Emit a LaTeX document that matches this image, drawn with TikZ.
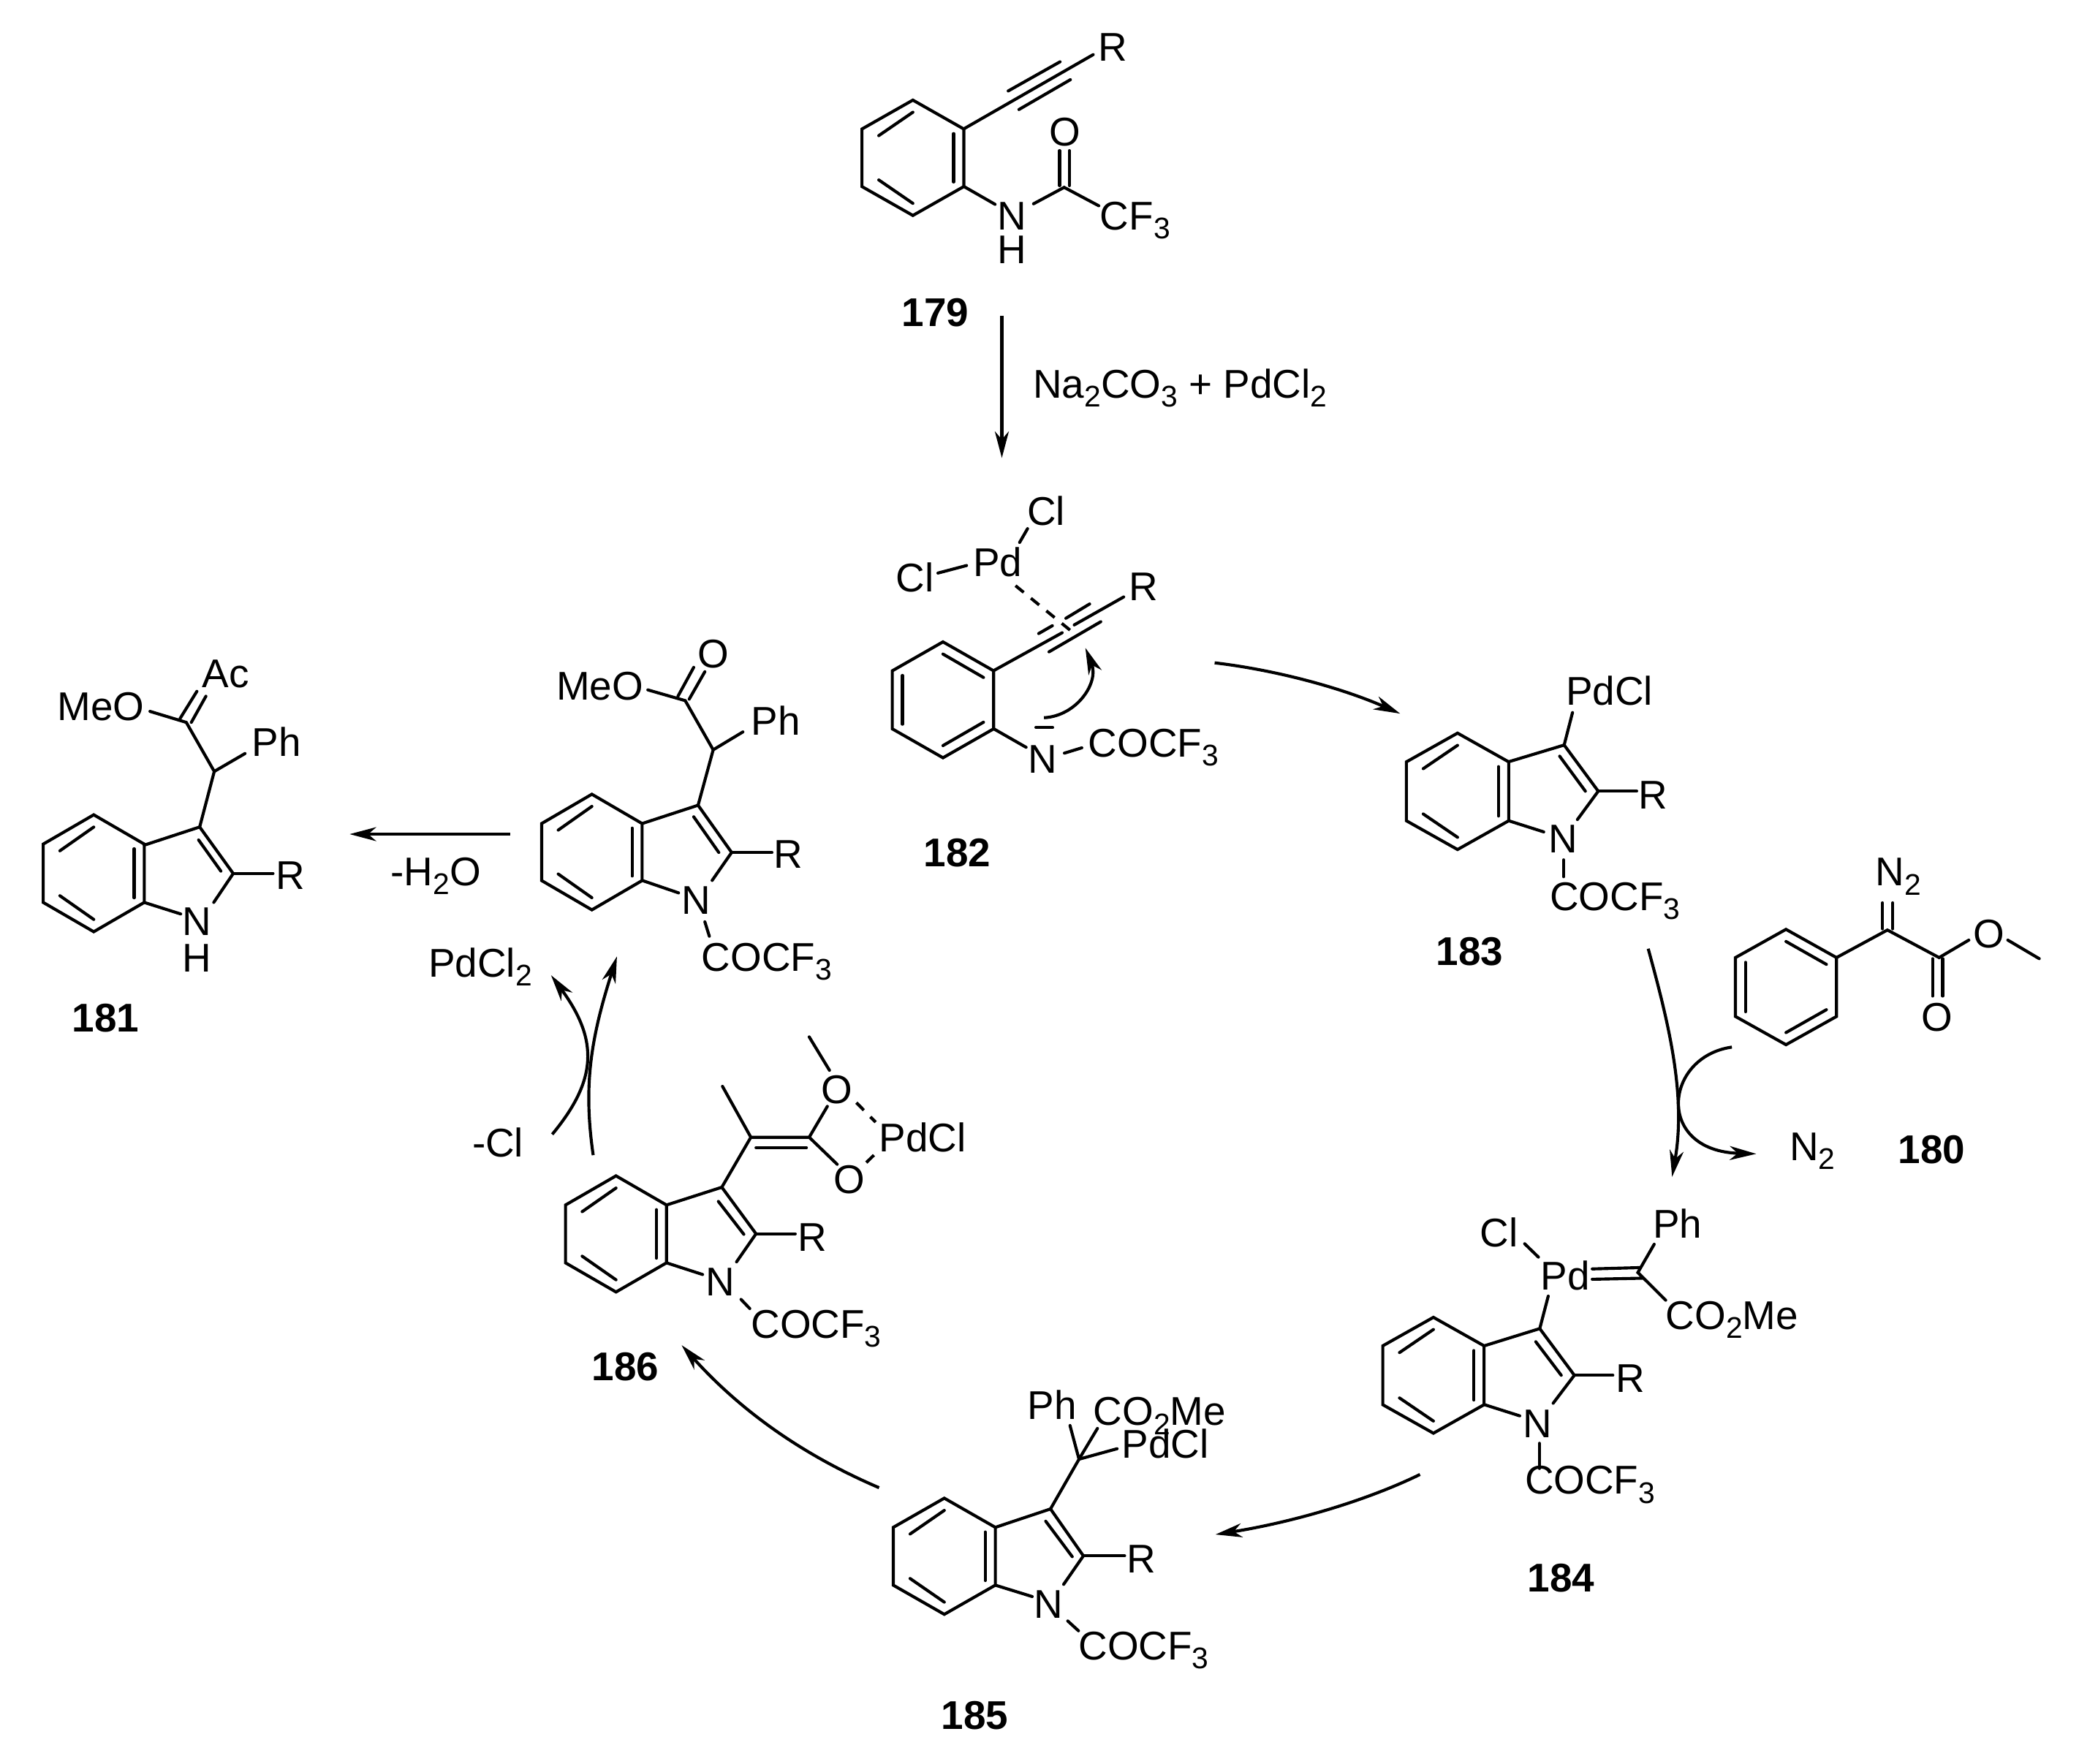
\documentclass[tikz,border=0pt]{standalone}
\usepackage{fontspec}
\setmainfont{Liberation Sans}
\usetikzlibrary{arrows.meta}
\def\lowsub#1{\raisebox{-1.9pt}{\fontsize{6.4}{7}\selectfont #1}}
% ring with inner bonds upper left, lower left, right: (cx,cy)(w,h,s)
\def\ringa(#1,#2)(#3,#4,#5){
	\draw[bond,line join=miter] ({#1},{#2-#4}) -- ({#1+#3},{#2-#5}) -- ({#1+#3},{#2+#5}) -- ({#1},{#2+#4}) -- ({#1-#3},{#2+#5}) -- ({#1-#3},{#2-#5}) -- cycle;
	\draw[bond] ({#1-0.67*#3},{#2-0.77*#5}) -- ({#1},{#2-0.79*#4});
	\draw[bond] ({#1-0.67*#3},{#2+0.77*#5}) -- ({#1},{#2+0.79*#4});
	\draw[bond] ({#1+0.8*#3},{#2-0.84*#5}) -- ({#1+0.8*#3},{#2+0.84*#5});
}
% same ring, inner bonds upper right, lower right, left
\def\ringb(#1,#2)(#3,#4,#5){
	\draw[bond,line join=miter] ({#1},{#2-#4}) -- ({#1+#3},{#2-#5}) -- ({#1+#3},{#2+#5}) -- ({#1},{#2+#4}) -- ({#1-#3},{#2+#5}) -- ({#1-#3},{#2-#5}) -- cycle;
	\draw[bond] ({#1+0.8*#3},{#2-0.77*#5}) -- ({#1},{#2-0.79*#4});
	\draw[bond] ({#1+0.8*#3},{#2+0.77*#5}) -- ({#1},{#2+0.79*#4});
	\draw[bond] ({#1-0.8*#3},{#2-0.84*#5}) -- ({#1-0.8*#3},{#2+0.84*#5});
}
\tikzset{
	bond/.style={line width=0.65pt,line cap=round},
	dashbond/.style={line width=0.65pt,dash pattern=on 0.8mm off 0.7mm},
	rxn/.style={line width=0.65pt,-{Stealth[length=2mm,width=1.05mm,inset=0.6mm]}},
	atomw/.style={inner sep=0,anchor=base west,font=\fontsize{8.6}{10}\selectfont},
	atomc/.style={inner sep=0,anchor=center,font=\fontsize{8.6}{10}\selectfont},
	cmpd/.style={inner sep=0,anchor=center,font=\fontsize{8.6}{10}\selectfont\bfseries}
}
\begin{document}
\begin{tikzpicture}[x=0.01cm,y=-0.01cm]
	\useasboundingbox (0,0) rectangle (1568,1330);
	\fill[white] (0,0) rectangle (1568,1330);

	%%%%% 179 %%%%%
	\ringa(688.5,119)(38.4,43.5,21.7);
	\draw[bond] (726.9,97.2) -- (824.5,41.2);
	\draw[bond] (760.4,68.6) -- (799.5,46.6);
	\draw[bond] (768.5,82.6) -- (807.3,60.1);
	\draw[bond] (726.9,140.6) -- (750.5,154.1);
	\draw[bond] (779.5,153.7) -- (802.6,141.3) -- (828.7,155.2);
	\draw[bond] (799.2,113.6) -- (799.2,140);
	\draw[bond] (806.5,113.6) -- (806.5,140);
	\node[atomc] (Ra) at (839.4,35.5) {R};
	\node[atomc] (Oa) at (803.4,99.7) {O};
	\node[atomc] (Na) at (763.2,163.1) {N};
	\node[atomc] (Ha) at (763.2,188.5) {H};
	\node[atomw] (CFa) at (829,173.2) {CF\lowsub{3}};
	\node[cmpd] (c179) at (705.5,236) {179};

	\coordinate (s179) at (755.6,238);
	\coordinate (e179) at (755.6,345.4);
	\draw[rxn] (s179) -- (e179);
	\node[atomw] (reag) at (778.5,300.4) {Na\lowsub{2}CO\lowsub{3} + PdCl\lowsub{2}};

	%%%%% 182 %%%%%
	\ringb(711.2,527.8)(38.2,43.7,21.9);
	\draw[bond] (749.4,505.8) -- (801.1,477.2);
	\draw[bond] (810.2,471.3) -- (847.5,450.2);
	\draw[bond] (783.4,477.8) -- (793.7,471.9);
	\draw[bond] (803.9,466.3) -- (821.8,455.5);
	\draw[bond] (791.2,491.6) -- (830.2,468.9);
	\draw[dashbond] (765.9,441.7) -- (807,475.2);
	\draw[bond] (769,409.1) -- (775,398.7);
	\draw[bond] (707.4,432.2) -- (729,426.5);
	\draw[bond] (749.4,549.6) -- (773.9,563.6);
	\draw[bond] (802.8,568) -- (815.9,564);
	\draw[bond] (781.3,548.6) -- (793.9,548.6);
	\node[atomw] (Pdb) at (733.2,434.8) {Pd};
	\node[atomw] (Clb) at (774,396.3) {Cl};
	\node[atomw] (Clc) at (675,446.2) {Cl};
	\node[atomw] (Rb) at (851,452.9) {R};
	\node[atomc] (Nb) at (786.3,572.5) {N};
	\node[atomw] (COb) at (820.2,570.9) {COCF\lowsub{3}};
	\node[cmpd] (c182) at (722,643) {182};
	\coordinate (s182i) at (787.4,541.3);
	\coordinate (e182i) at (818.6,488.6);
	\draw[rxn] (s182i) .. controls (812,540) and (829,515) .. (e182i);

	\coordinate (s182) at (916.1,499.9);
	\coordinate (e182) at (1056,538.2);
	\draw[rxn] (s182) .. controls (960,505) and (1010,518) .. (e182);

	%%%%% 183 %%%%%
	\ringa(1099.3,596.8)(38.6,43.9,22.2);
	\draw[bond] (1137.9,574.5) -- (1179.7,561.9) -- (1205.4,596.7) -- (1189.7,618.1);
	\draw[bond] (1176.3,570.3) -- (1195.7,596.7);
	\draw[bond] (1137.9,619) -- (1164.3,627.4);
	\draw[bond] (1205.4,596.7) -- (1234.4,596.7);
	\draw[bond] (1179.7,561.9) -- (1186,537.4);
	\draw[bond] (1179.3,648.5) -- (1179.3,661.2);
	\node[atomw] (Pdd) at (1180.3,531.8) {PdCl};
	\node[atomc] (Rd) at (1247,599.8) {R};
	\node[atomc] (Nd) at (1178.7,633) {N};
	\node[atomw] (COd) at (1168.3,686.5) {COCF\lowsub{3}};
	\node[cmpd] (c183) at (1108.5,717.4) {183};

	%%%%% 180 %%%%%
	\ringb(1347,744.4)(38.1,43.5,22.2);
	\draw[bond] (1385.1,722.2) -- (1423.5,701.4) -- (1462.5,722.2) -- (1484.9,709);
	\draw[bond] (1419.8,680.9) -- (1419.8,700.5);
	\draw[bond] (1427.5,680.9) -- (1427.5,700.5);
	\draw[bond] (1457.5,723) -- (1457.5,751.2);
	\draw[bond] (1465.2,723) -- (1465.2,751.2);
	\draw[bond] (1514.3,709) -- (1538,723);
	\node[atomw] (Ne) at (1414,668.2) {N\lowsub{2}};
	\node[atomc] (Oe) at (1460.9,767.2) {O};
	\node[atomc] (Of) at (1500.3,704.2) {O};
	\node[atomw] (Nf) at (1349,875) {N\lowsub{2}};
	\node[cmpd] (c180) at (1456.9,867) {180};

	\coordinate (s183) at (1243.1,715.5);
	\coordinate (e183) at (1261.1,887.6);
	\draw[rxn] (s183) .. controls (1258,770) and (1272,825) .. (e183);
	\coordinate (s180) at (1306.2,789.7);
	\coordinate (e180) at (1324.6,870.2);
	\draw[rxn] (s180) .. controls (1255,797) and (1248,868) .. (e180);

	%%%%% 184 %%%%%
	\ringa(1081.1,1037.2)(38.2,43.7,22.2);
	\draw[bond] (1119.4,1015) -- (1161.3,1002) -- (1187.4,1037.2) -- (1171.4,1058.3);
	\draw[bond] (1158.3,1011.9) -- (1177.5,1037.2);
	\draw[bond] (1119.4,1059.3) -- (1146.2,1067.8);
	\draw[bond] (1187.4,1037.2) -- (1216.4,1037.2);
	\draw[bond] (1161.3,1002) -- (1167.7,977.5);
	\draw[bond] (1149.9,938) -- (1160.3,948.1);
	\draw[bond] (1200.9,957) -- (1236.6,956);
	\draw[bond] (1200.9,964.8) -- (1238.5,964);
	\draw[bond] (1247.6,938.4) -- (1235.3,959.7) -- (1256.3,980.6);
	\draw[bond] (1161,1088.5) -- (1161,1107.5);
	\node[atomw] (Clg) at (1115.5,940.5) {Cl};
	\node[atomw] (Pdg) at (1161.5,972.8) {Pd};
	\node[atomw] (Phg) at (1246,933.8) {Ph};
	\node[atomw] (COg) at (1255.7,1002.4) {CO\lowsub{2}Me};
	\node[atomw] (Rg) at (1218,1049.8) {R};
	\node[atomc] (Ng) at (1159.8,1073.7) {N};
	\node[atomw] (CFg) at (1149.4,1126.9) {COCF\lowsub{3}};
	\node[cmpd] (c184) at (1177.5,1190) {184};

	\coordinate (s184) at (1071,1112);
	\coordinate (e184) at (916.7,1157.3);
	\draw[rxn] (s184) .. controls (1030,1132) and (975,1148) .. (e184);

	%%%%% 185 %%%%%
	\ringa(712.2,1173.7)(38.5,43.8,21.8);
	\draw[bond] (750.7,1151.9) -- (792.3,1138) -- (817.1,1173.4) -- (802.2,1194.9);
	\draw[bond] (788.7,1147.3) -- (808.7,1174);
	\draw[bond] (750.7,1195.5) -- (778.5,1204.1);
	\draw[bond] (817.1,1173.4) -- (848.2,1173.4);
	\draw[bond] (792.3,1138) -- (813.8,1100.5) -- (807,1075.1);
	\draw[bond] (813.8,1100.5) -- (827.7,1077.3);
	\draw[bond] (813.8,1100.5) -- (842.5,1092.6);
	\draw[bond] (805.3,1222.5) -- (813.4,1229.9);
	\node[atomw] (Phh) at (774.3,1070.5) {Ph};
	\node[atomw] (COh) at (824,1075.1) {CO\lowsub{2}Me};
	\node[atomw] (Pdh) at (845.5,1099.9) {PdCl};
	\node[atomw] (Rh) at (849.3,1186.3) {R};
	\node[atomc] (Nh) at (790.8,1209.8) {N};
	\node[atomw] (CFh) at (812.8,1251.9) {COCF\lowsub{3}};
	\node[cmpd] (c185) at (735.3,1293.8) {185};

	\coordinate (s185) at (663,1122);
	\coordinate (e185) at (514.1,1014.5);
	\draw[rxn] (s185) .. controls (600,1095) and (555,1060) .. (e185);

	%%%%% 186 %%%%%
	\ringa(464.6,930.6)(38.1,43.8,21.8);
	\draw[bond] (502.7,908.8) -- (544.4,895.4) -- (570.2,930.5) -- (555.5,951.7);
	\draw[bond] (541.8,906.1) -- (561,930.9);
	\draw[bond] (502.7,952.4) -- (529.9,961.2);
	\draw[bond] (570.2,930.5) -- (599.8,930.5);
	\draw[bond] (544.4,895.4) -- (566.3,857.7) -- (544.9,819.3);
	\draw[bond] (566.3,857.7) -- (610.3,857.7) -- (624,834.4);
	\draw[bond] (610.3,857.7) -- (631.4,878.1);
	\draw[bond] (570.2,865.6) -- (608.2,865.6);
	\draw[bond] (625.6,807.2) -- (610.3,782);
	\draw[dashbond] (645.9,831.6) -- (660.4,846.3);
	\draw[dashbond] (659.1,871.2) -- (652.5,877.6);
	\draw[bond] (558.9,980) -- (565.5,986.9);
	\node[atomc] (Oi) at (631.4,821.9) {O};
	\node[atomc] (Oj) at (640.6,889.5) {O};
	\node[atomw] (Pdi) at (662.5,868.4) {PdCl};
	\node[atomw] (Ri) at (601.2,943.8) {R};
	\node[atomc] (Ni) at (543.1,967.1) {N};
	\node[atomw] (CFi) at (565.8,1009) {COCF\lowsub{3}};
	\node[cmpd] (c186) at (471.8,1031) {186};
	\node[atomw] (lossCl) at (355.5,872.6) {-Cl};

	\coordinate (s186a) at (416.5,855.5);
	\coordinate (e186a) at (415.6,735.5);
	\draw[rxn] (s186a) .. controls (450,815) and (452,785) .. (e186a);
	\coordinate (s186b) at (447.4,871.2);
	\coordinate (e186b) at (465.3,721.3);
	\draw[rxn] (s186b) .. controls (440,820) and (445,785) .. (e186b);
	\node[atomw] (lossPd) at (322.5,736.6) {PdCl\lowsub{2}};

	%%%%% ester intermediate %%%%%
	\ringa(446.4,642.6)(37.9,43.6,21.5);
	\draw[bond] (484.3,621.1) -- (526.5,607.3) -- (551.8,642.9) -- (537.1,664);
	\draw[bond] (523.2,616) -- (542.1,642.9);
	\draw[bond] (484.3,664) -- (511.8,673.4);
	\draw[bond] (551.8,642.9) -- (582.2,642.9);
	\draw[bond] (526.5,607.3) -- (537.9,565.5) -- (516.8,528.4) -- (488.6,520.3);
	\draw[bond] (537.9,565.5) -- (560.3,552);
	\draw[bond] (511.3,525.1) -- (523.2,503.3);
	\draw[bond] (519.8,527.3) -- (531.6,506.6);
	\draw[bond] (531.6,695.2) -- (535,706.1);
	\node[atomc] (Ok) at (537.9,493) {O};
	\node[atomw] (MeOk) at (419,528) {MeO};
	\node[atomw] (Phk) at (566,554.6) {Ph};
	\node[atomw] (Rk) at (583,654.8) {R};
	\node[atomc] (Nk) at (525.3,678.8) {N};
	\node[atomw] (CFk) at (528.5,732.2) {COCF\lowsub{3}};

	\coordinate (swater) at (384.8,629.1);
	\coordinate (ewater) at (263.7,629.1);
	\draw[rxn] (swater) -- (ewater);
	\node[atomw] (lossW) at (294,667.9) {-H\lowsub{2}O};

	%%%%% 181 %%%%%
	\ringa(70.7,658.6)(38.1,44.1,22);
	\draw[bond] (108.8,637.4) -- (150.6,623.7) -- (175.9,658.8) -- (161.2,680.6);
	\draw[bond] (149.8,633.5) -- (166.6,657);
	\draw[bond] (108.8,680.6) -- (136.3,689.3);
	\draw[bond] (175.9,658.8) -- (205.9,658.8);
	\draw[bond] (150.6,623.7) -- (161.6,581.8) -- (140.5,544.8) -- (113.1,536.5);
	\draw[bond] (161.6,581.8) -- (184.8,568.3);
	\draw[bond] (135.8,541.9) -- (148.5,521.4);
	\draw[bond] (144.3,544.8) -- (155.3,525.1);
	\node[atomw] (Acm) at (152,518.6) {Ac};
	\node[atomw] (MeOm) at (42.5,543.2) {MeO};
	\node[atomw] (Phm) at (189.5,570.5) {Ph};
	\node[atomw] (Rm) at (207.5,670.8) {R};
	\node[atomc] (Nm) at (148.5,695.2) {N};
	\node[atomc] (Hm) at (148.5,722.4) {H};
	\node[cmpd] (c181) at (79.8,767.8) {181};
\end{tikzpicture}
\end{document}
